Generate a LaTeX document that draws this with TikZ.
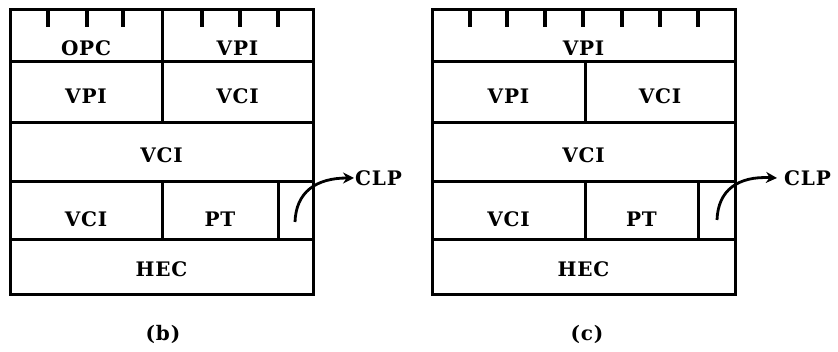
\documentclass[tikz,border=0pt]{standalone}
\usepackage{fontspec}
\setmainfont{DejaVu Serif}[LetterSpace=4]
\usetikzlibrary{arrows.meta}
\begin{document}
\begin{tikzpicture}[x=1pt,y=-1pt,
  cell/.style={draw, line width=3pt, rectangle, inner sep=0pt, outer sep=0pt},
  txt/.style={font=\fontsize{20}{22}\selectfont\bfseries, inner sep=0pt},
  tick/.style={line width=3.2pt},
  lbl/.style={font=\fontsize{20}{22}\selectfont\bfseries, inner sep=1pt},
  clparrow/.style={line width=2.8pt, -{Stealth[length=11pt,width=11pt]}}]
\useasboundingbox (0,0) rectangle (838,352);
% ---------- (b) ----------
\node[cell, minimum width=152pt, minimum height=52pt] (ba1) at (86,36) {};
\node[cell, minimum width=151pt, minimum height=52pt] (ba2) at (237.5,36) {};
\node[cell, minimum width=152pt, minimum height=61pt] (bb1) at (86,92.5) {};
\node[cell, minimum width=151pt, minimum height=61pt] (bb2) at (237.5,92.5) {};
\node[cell, minimum width=303pt, minimum height=59pt] (bc) at (161.5,152.5) {};
\node[cell, minimum width=152pt, minimum height=58pt] (bd1) at (86,211) {};
\node[cell, minimum width=116pt, minimum height=58pt] (bd2) at (220,211) {};
\node[cell, minimum width=35pt, minimum height=58pt] (bd3) at (295.5,211) {};
\node[cell, minimum width=303pt, minimum height=55pt] (be) at (161.5,267.5) {};
\foreach \x in {48,87,123,202,240,278} \draw[tick] (\x,10) -- (\x,27);
\node[txt] (tba1) at ([yshift=-12pt]ba1.center) {OPC};
\node[txt] (tba2) at ([yshift=-12pt]ba2.center) {VPI};
\node[txt] (tbb1) at ([yshift=-3.5pt]bb1.center) {VPI};
\node[txt] (tbb2) at ([yshift=-3.5pt]bb2.center) {VCI};
\node[txt] (tbc) at ([yshift=-2.5pt]bc.center) {VCI};
\node[txt] (tbd1) at ([yshift=-8pt]bd1.center) {VCI};
\node[txt] (tbd2) at ([yshift=-8pt]bd2.center) {PT};
\node[txt] (tbe) at ([yshift=-1.5pt]be.center) {HEC};
\coordinate (bs) at (295,222);
\node[lbl, anchor=west] (bclp) at (354,178) {CLP};
\draw[clparrow] (bs) .. controls (296,192) and (316,178) .. (bclp.west);
\node[lbl] (blab) at (163,334) {(b)};
% ---------- (c) ----------
\node[cell, minimum width=303pt, minimum height=52pt] (ca) at (583.5,36) {};
\node[cell, minimum width=153pt, minimum height=61pt] (cb1) at (508.5,92.5) {};
\node[cell, minimum width=150pt, minimum height=61pt] (cb2) at (660,92.5) {};
\node[cell, minimum width=303pt, minimum height=59pt] (cc) at (583.5,152.5) {};
\node[cell, minimum width=153pt, minimum height=58pt] (cd1) at (508.5,211) {};
\node[cell, minimum width=113pt, minimum height=58pt] (cd2) at (641.5,211) {};
\node[cell, minimum width=37pt, minimum height=58pt] (cd3) at (716.5,211) {};
\node[cell, minimum width=303pt, minimum height=55pt] (ce) at (583.5,267.5) {};
\foreach \x in {470,507,545,583,622,660,698} \draw[tick] (\x,10) -- (\x,27);
\node[txt] (tca) at ([yshift=-12pt]ca.center) {VPI};
\node[txt] (tcb1) at ([yshift=-3.5pt]cb1.center) {VPI};
\node[txt] (tcb2) at ([yshift=-3.5pt]cb2.center) {VCI};
\node[txt] (tcc) at ([yshift=-2.5pt]cc.center) {VCI};
\node[txt] (tcd1) at ([yshift=-8pt]cd1.center) {VCI};
\node[txt] (tcd2) at ([yshift=-8pt]cd2.center) {PT};
\node[txt] (tce) at ([yshift=-1.5pt]ce.center) {HEC};
\coordinate (cs) at (717,220);
\node[lbl, anchor=west] (cclp) at (783,178) {CLP};
\draw[clparrow] (cs) .. controls (718,190) and (738,176) .. ([xshift=-6pt]cclp.west);
\node[lbl] (clab) at (587,334) {(c)};
\end{tikzpicture}
\end{document}
